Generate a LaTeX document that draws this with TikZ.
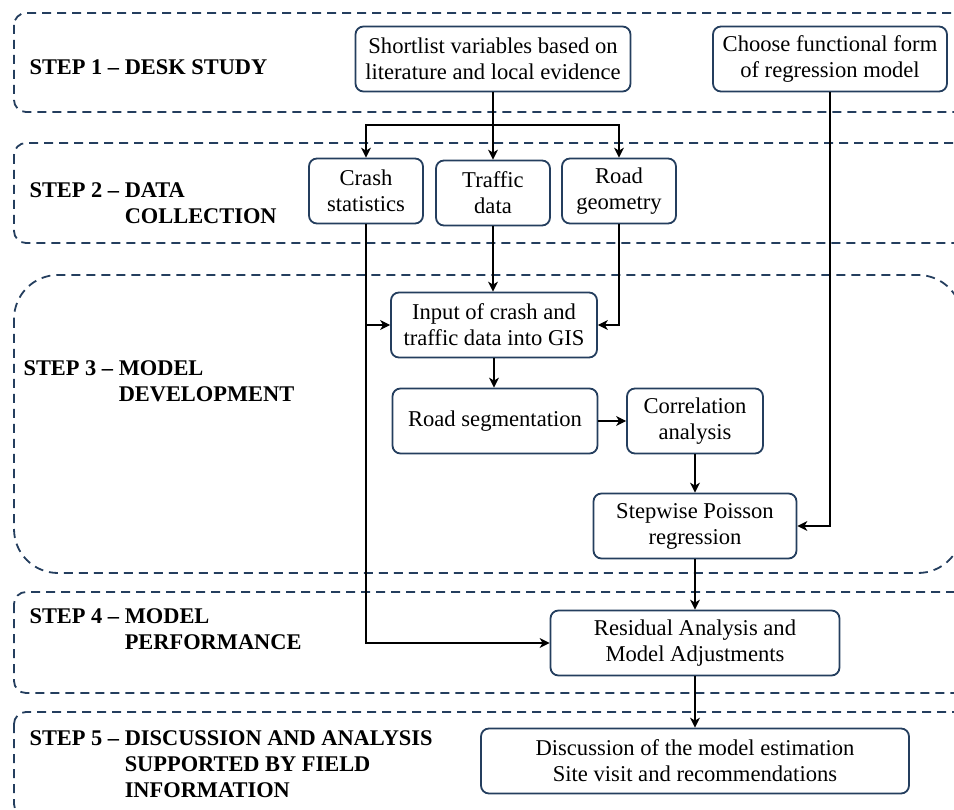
\documentclass[tikz,border=0pt]{standalone}
\usepackage{fontspec}
\setmainfont{Liberation Serif}
\usetikzlibrary{arrows.meta}
\definecolor{stepblue}{RGB}{36,62,94}
\tikzset{every picture/.style={line width=1.1pt}}

\begin{document}
\begin{tikzpicture}[x=1pt,y=-1pt,>={Stealth[length=10pt,width=10pt,inset=3pt]},
  every node/.style={font=\fontsize{22.6}{26}\selectfont},
  stage/.style={draw=stepblue,line width=1.8pt,dash pattern=on 9pt off 6pt},
  stagelabel/.style={anchor=west,font=\bfseries\fontsize{22.4}{26}\selectfont,
                     inner sep=0pt,align=left},
  task/.style={draw=stepblue,line width=1.8pt,rounded corners=8pt,
               minimum height=65pt,align=center,inner xsep=2pt},
  flow/.style={->,black,line width=1.1pt}]
  \useasboundingbox (0,0) rectangle (954,810);

  % Five dashed stages.
  \draw[stage,rounded corners=12pt] (14,13) rectangle (975,112);
  \draw[stage,rounded corners=12pt] (14,143) rectangle (975,243);
  \draw[stage,rounded corners=44pt] (14,275) rectangle (962,573);
  \draw[stage,rounded corners=12pt] (14,592) rectangle (975,693);
  \draw[stage,rounded corners=12pt] (14,712) rectangle (975,816);

  \node[stagelabel] (s1) at (29,67) {STEP 1 -- DESK STUDY};
  \node[stagelabel] (s2) at (29,205)
    {\begin{tabular}{@{}l@{ }l@{}}STEP 2 --&DATA\\&COLLECTION\end{tabular}};
  \node[stagelabel] (s3) at (23,383)
    {\begin{tabular}{@{}l@{ }l@{}}STEP 3 --&MODEL\\&DEVELOPMENT\end{tabular}};
  \node[stagelabel] (s4) at (29,631)
    {\begin{tabular}{@{}l@{ }l@{}}STEP 4 --&MODEL\\&PERFORMANCE\end{tabular}};
  \node[stagelabel] (s5) at (29,766)
    {\begin{tabular}{@{}l@{ }l@{}}STEP 5 --&DISCUSSION AND ANALYSIS\\
      &SUPPORTED BY FIELD\\&INFORMATION\end{tabular}};

  % Tasks.
  \node[task,minimum width=275pt] (shortlist) at (493,59)
    {Shortlist variables based on\\literature and local evidence};
  \node[task,minimum width=234pt] (choose) at (830,59)
    {Choose functional form\\of regression model};
  \node[task,minimum width=114pt] (crash) at (366,191) {Crash\\statistics};
  \node[task,minimum width=114pt] (traffic) at (493,193) {Traffic\\data};
  \node[task,minimum width=114pt] (geometry) at (619,191) {Road\\geometry};
  \node[task,minimum width=206pt] (gis) at (494,325)
    {Input of crash and\\traffic data into GIS};
  \node[task,minimum width=205pt] (segment) at (495,421) {Road segmentation};
  \node[task,minimum width=136pt] (corr) at (695,421) {Correlation\\analysis};
  \node[task,minimum width=203pt] (poisson) at (695,526)
    {Stepwise Poisson\\regression};
  \node[task,minimum width=289pt] (residual) at (695,643)
    {Residual Analysis and\\Model Adjustments};
  \node[task,minimum width=428pt] (discuss) at (695,761)
    {Discussion of the model estimation\\Site visit and recommendations};

  % Connectors.
  \coordinate (fork) at (493,125);
  \draw (shortlist) -- (fork);
  \draw[flow] (fork) -| (crash);
  \draw[flow] (fork) -- (traffic);
  \draw[flow] (fork) -| (geometry);
  \draw[flow] (traffic) -- (traffic |- gis.north);
  \draw[flow] (crash |- gis) -- (gis);
  \draw[flow] (geometry) |- (gis);
  \draw[flow] (crash) |- (residual);
  \draw[flow] (gis) -- (gis |- segment.north);
  \draw[flow] (segment) -- (corr);
  \draw[flow] (corr) -- (poisson);
  \draw[flow] (choose) |- (poisson);
  \draw[flow] (poisson) -- (residual);
  \draw[flow] (residual) -- (discuss);
\end{tikzpicture}
\end{document}
